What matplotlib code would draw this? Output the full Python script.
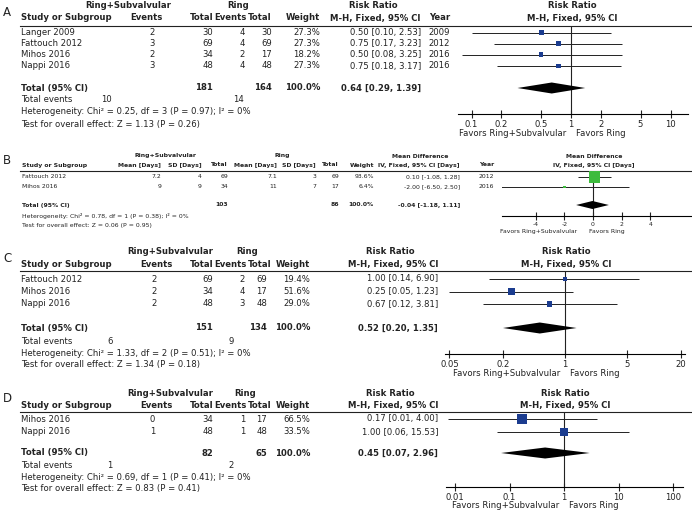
import numpy as np
import matplotlib.pyplot as plt
from matplotlib.ticker import NullLocator

# A - risk ratio, four studies
a_study = ["Langer 2009", "Fattouch 2012", "Mihos 2016", "Nappi 2016"]
a_ev1 = [2, 3, 2, 3]
a_n1 = [30, 69, 34, 48]
a_ev2 = [4, 4, 2, 4]
a_n2 = [30, 69, 17, 48]
a_weight = [27.3, 27.3, 18.2, 27.3]
a_rr = [0.50, 0.75, 0.50, 0.75]
a_lo = [0.10, 0.17, 0.08, 0.18]
a_hi = [2.53, 3.23, 3.25, 3.17]
a_year = [2009, 2012, 2016, 2016]
a_tot_n = [181, 164]
a_tot_ev = [10, 14]
a_pool = [0.64, 0.29, 1.39]
a_het = [0.25, 3, 0.97, 0]   # chi2, df, P, I2
a_test = [1.13, 0.26]        # Z, P
a_ticks = [0.1, 0.2, 0.5, 1, 2, 5, 10]

# B - mean difference (days)
b_study = ["Fattouch 2012", "Mihos 2016"]
b_mean1 = [7.2, 9]
b_sd1 = [4, 9]
b_n1 = [69, 34]
b_mean2 = [7.1, 11]
b_sd2 = [3, 7]
b_n2 = [69, 17]
b_weight = [93.6, 6.4]
b_md = [0.10, -2.00]
b_lo = [-1.08, -6.50]
b_hi = [1.28, 2.50]
b_year = [2012, 2016]
b_tot_n = [103, 86]
b_pool = [-0.04, -1.18, 1.11]
b_het = [0.78, 1, 0.38, 0]
b_test = [0.06, 0.95]
b_ticks = [-4, -2, 0, 2, 4]

# C - risk ratio, three studies
c_study = ["Fattouch 2012", "Mihos 2016", "Nappi 2016"]
c_ev1 = [2, 2, 2]
c_n1 = [69, 34, 48]
c_ev2 = [2, 4, 3]
c_n2 = [69, 17, 48]
c_weight = [19.4, 51.6, 29.0]
c_rr = [1.00, 0.25, 0.67]
c_lo = [0.14, 0.05, 0.12]
c_hi = [6.90, 1.23, 3.81]
c_tot_n = [151, 134]
c_tot_ev = [6, 9]
c_pool = [0.52, 0.20, 1.35]
c_het = [1.33, 2, 0.51, 0]
c_test = [1.34, 0.18]
c_ticks = [0.05, 0.2, 1, 5, 20]

# D - risk ratio, two studies
d_study = ["Mihos 2016", "Nappi 2016"]
d_ev1 = [0, 1]
d_n1 = [34, 48]
d_ev2 = [1, 1]
d_n2 = [17, 48]
d_weight = [66.5, 33.5]
d_rr = [0.17, 1.00]
d_lo = [0.0073, 0.06]
d_hi = [4.00, 15.53]
d_tot_n = [82, 65]
d_tot_ev = [1, 2]
d_pool = [0.45, 0.07, 2.96]
d_het = [0.69, 1, 0.41, 0]
d_test = [0.83, 0.41]
d_ticks = [0.01, 0.1, 1, 10, 100]

W, H = 692, 512
ink = "#222222"
blue = "#1b3c8f"
green = "#3dbb3d"
fs = 6.1
fs_b = 4.4

fig = plt.figure(figsize=(W / 100, H / 100), dpi=100)
bg = fig.add_axes([0, 0, 1, 1])
bg.set_xlim(0, W)
bg.set_ylim(H, 0)
bg.axis("off")


def txt(x, y, s, size=fs, ha="left", bold=False):
    bg.text(x, y, s, fontsize=size, ha=ha, va="center", color=ink,
            fontweight="bold" if bold else "normal")


def ci_text(e, lo, hi):
    return f"{e:.2f} [{lo:.2f}, {hi:.2f}]"


def het_text(h):
    return f"Heterogeneity: Chi² = {h[0]:.2f}, df = {h[1]} (P = {h[2]:.2f}); I² = {h[3]}%"


def test_text(t):
    return f"Test for overall effect: Z = {t[0]:.2f} (P = {t[1]:.2f})"


def plot_axes(x0, x1, y_top, y_axis, xlim, log, size):
    ax = fig.add_axes([x0 / W, 1 - y_axis / H, (x1 - x0) / W, (y_axis - y_top) / H])
    if log:
        ax.set_xscale("log")
    ax.set_xlim(*xlim)
    ax.set_ylim(y_axis, y_top)
    ax.set_facecolor("none")
    for side in ["top", "right", "left"]:
        ax.spines[side].set_visible(False)
    ax.spines["bottom"].set_linewidth(0.8)
    ax.set_yticks([])
    ax.xaxis.set_minor_locator(NullLocator())
    ax.tick_params(axis="x", direction="inout", length=6, width=0.8,
                   labelsize=size, pad=1, colors=ink)
    return ax


def rr_panel(letter, study, ev1, n1, ev2, n2, weight, rr, lo, hi, year,
             tot_n, tot_ev, pool, het, test, ticks, L):
    txt(3, L["ly"], letter, 8.5)
    txt(L["g1"], L["y1"], "Ring+Subvalvular", ha="center", bold=True)
    txt(L["g2"], L["y1"], "Ring", ha="center", bold=True)
    txt(L["grr"], L["y1"], "Risk Ratio", ha="center", bold=True)
    txt(L["ref"] + 1, L["y1"], "Risk Ratio", ha="center", bold=True)
    txt(21, L["y2"], "Study or Subgroup", bold=True)
    txt(L["ev1"], L["y2"], "Events", ha="right", bold=True)
    txt(L["n1"], L["y2"], "Total", ha="right", bold=True)
    txt(L["ev2"], L["y2"], "Events", ha="right", bold=True)
    txt(L["n2"], L["y2"], "Total", ha="right", bold=True)
    txt(L["w"], L["y2"], "Weight", ha="right", bold=True)
    txt(L["ci"], L["y2"], "M-H, Fixed, 95% CI", ha="right", bold=True)
    if year is not None:
        txt(L["yr"], L["y2"], "Year", ha="right", bold=True)
    txt(L["ref"] + 1, L["y2"], "M-H, Fixed, 95% CI", ha="center", bold=True)
    bg.plot([20, W], [L["yl"], L["yl"]], color=ink, lw=0.8)

    for i, y in enumerate(L["rows"]):
        txt(21, y, study[i])
        txt(L["vev1"], y, str(ev1[i]), ha="right")
        txt(L["n1"], y, str(n1[i]), ha="right")
        txt(L["vev2"], y, str(ev2[i]), ha="right")
        txt(L["vn2"], y, str(n2[i]), ha="right")
        txt(L["w"], y, f"{weight[i]:.1f}%", ha="right")
        txt(L["ci"], y, ci_text(rr[i], lo[i], hi[i]), ha="right")
        if year is not None:
            txt(L["yr"], y, str(year[i]), ha="right")

    yt = L["yt"]
    txt(21, yt, "Total (95% CI)", bold=True)
    txt(L["n1"], yt, str(tot_n[0]), ha="right", bold=True)
    txt(L["vn2"], yt, str(tot_n[1]), ha="right", bold=True)
    txt(L["w"], yt, "100.0%", ha="right", bold=True)
    txt(L["ci"], yt, ci_text(*pool), ha="right", bold=True)
    txt(21, L["yev"], "Total events")
    txt(L["te1"], L["yev"], str(tot_ev[0]), ha="center")
    txt(L["te2"], L["yev"], str(tot_ev[1]), ha="center")
    txt(21, L["yhet"], het_text(het))
    txt(21, L["ytest"], test_text(test))

    ref, ppd = L["ref"], L["ppd"]
    xlim = (10 ** ((L["ax0"] - ref) / ppd), 10 ** ((L["ax1"] - ref) / ppd))
    ax = plot_axes(L["ax0"], L["ax1"], L["yl"], L["yax"], xlim, True, fs)
    ax.axvline(1, color=ink, lw=0.8)
    ax.hlines(L["rows"], lo, hi, color=ink, lw=0.7)
    ax.scatter(rr, L["rows"], marker="s", s=(L["k"] * np.sqrt(weight) * 0.72) ** 2,
               color=blue, linewidths=0, zorder=3)
    ax.fill([pool[1], pool[0], pool[2], pool[0]], [yt, yt - 5.5, yt, yt + 5.5],
            color="black", lw=0, zorder=3)
    ax.set_xticks(ticks)
    ax.set_xticklabels([f"{t:g}" for t in ticks])
    txt(ref - 5, L["yfav"], "Favors Ring+Subvalvular", ha="right")
    txt(ref + 5, L["yfav"], "Favors Ring")


lay_a = dict(ly=12, y1=5, y2=18, yl=26, rows=[32.5, 43.5, 54.5, 66], yt=88, yev=100,
             yhet=112, ytest=125, yax=114, yfav=133,
             g1=128, g2=238, grr=373, ev1=163, vev1=155, n1=213, ev2=247, vev2=245,
             n2=272, vn2=272, w=320, ci=421, yr=450, te1=106, te2=238,
             ref=571, ppd=99.5, ax0=458, ax1=688, k=0.95)
lay_c = dict(ly=258, y1=252, y2=264.5, yl=271, rows=[279, 291.5, 304], yt=328, yev=341,
             yhet=353, ytest=365, yax=354, yfav=373,
             g1=170, g2=247, grr=390, ev1=173, vev1=157, n1=213, ev2=247, vev2=245,
             n2=272, vn2=267, w=310, ci=438, yr=None, te1=110, te2=231,
             ref=565, ppd=88.8, ax0=445, ax1=685, k=1.05)
lay_d = dict(ly=399, y1=393, y2=405.5, yl=412, rows=[419, 432], yt=453, yev=465,
             yhet=477, ytest=489, yax=487, yfav=506,
             g1=170, g2=245, grr=390, ev1=173, vev1=155, n1=213, ev2=247, vev2=245,
             n2=272, vn2=267, w=310, ci=438, yr=None, te1=110, te2=231,
             ref=564, ppd=54.5, ax0=446, ax1=683, k=1.25)

rr_panel("A", a_study, a_ev1, a_n1, a_ev2, a_n2, a_weight, a_rr, a_lo, a_hi, a_year,
         a_tot_n, a_tot_ev, a_pool, a_het, a_test, a_ticks, lay_a)
rr_panel("C", c_study, c_ev1, c_n1, c_ev2, c_n2, c_weight, c_rr, c_lo, c_hi, None,
         c_tot_n, c_tot_ev, c_pool, c_het, c_test, c_ticks, lay_c)
rr_panel("D", d_study, d_ev1, d_n1, d_ev2, d_n2, d_weight, d_rr, d_lo, d_hi, None,
         d_tot_n, d_tot_ev, d_pool, d_het, d_test, d_ticks, lay_d)

# B - continuous outcome, smaller type
y1, y2, yl, yt = 156, 165, 171, 205
b_rows = [177, 187]
txt(3, 161, "B", 8.5)
txt(165, y1, "Ring+Subvalvular", fs_b, "center", True)
txt(282, y1, "Ring", fs_b, "center", True)
txt(420, y1, "Mean Difference", fs_b, "center", True)
txt(594, y1, "Mean Difference", fs_b, "center", True)
txt(22, y2, "Study or Subgroup", fs_b, bold=True)
b_cols = [161, 202, 228, 277, 316, 339, 374, 460, 494]
b_heads = ["Mean [Days]", "SD [Days]", "Total", "Mean [Days]", "SD [Days]", "Total",
           "Weight", "IV, Fixed, 95% CI [Days]", "Year"]
for x, s in zip(b_cols, b_heads):
    txt(x, y2, s, fs_b, "right", True)
txt(594, y2, "IV, Fixed, 95% CI [Days]", fs_b, "center", True)
bg.plot([20, W], [yl, yl], color=ink, lw=0.8)
for i, y in enumerate(b_rows):
    vals = [f"{b_mean1[i]:g}", f"{b_sd1[i]:g}", str(b_n1[i]), f"{b_mean2[i]:g}",
            f"{b_sd2[i]:g}", str(b_n2[i]), f"{b_weight[i]:.1f}%",
            ci_text(b_md[i], b_lo[i], b_hi[i]), str(b_year[i])]
    txt(22, y, b_study[i], fs_b)
    for x, s in zip(b_cols, vals):
        txt(x, y, s, fs_b, "right")
txt(22, yt, "Total (95% CI)", fs_b, bold=True)
txt(b_cols[2], yt, str(b_tot_n[0]), fs_b, "right", True)
txt(b_cols[5], yt, str(b_tot_n[1]), fs_b, "right", True)
txt(b_cols[6], yt, "100.0%", fs_b, "right", True)
txt(b_cols[7], yt, ci_text(*b_pool), fs_b, "right", True)
txt(22, 216, het_text(b_het), fs_b)
txt(22, 226, test_text(b_test), fs_b)

ref_b, ppu_b = 593, 14.3
ax = plot_axes(502, 692, yl, 216, ((502 - ref_b) / ppu_b, (692 - ref_b) / ppu_b), False, fs_b)
ax.axvline(0, color=ink, lw=0.8)
ax.hlines(b_rows, b_lo, b_hi, color=ink, lw=0.7)
ax.scatter(b_md, b_rows, marker="s", s=(1.14 * np.sqrt(b_weight) * 0.72) ** 2,
           color=green, linewidths=0, zorder=3)
ax.fill([b_pool[1], b_pool[0], b_pool[2], b_pool[0]], [yt, yt - 4, yt, yt + 4],
        color="black", lw=0, zorder=3)
ax.set_xticks(b_ticks)
ax.set_xticklabels([str(t) for t in b_ticks])
txt(ref_b - 16, 231, "Favors Ring+Subvalvular", fs_b, "right")
txt(ref_b - 4, 231, "Favors Ring", fs_b)

fig.savefig("out.png", dpi=100)
